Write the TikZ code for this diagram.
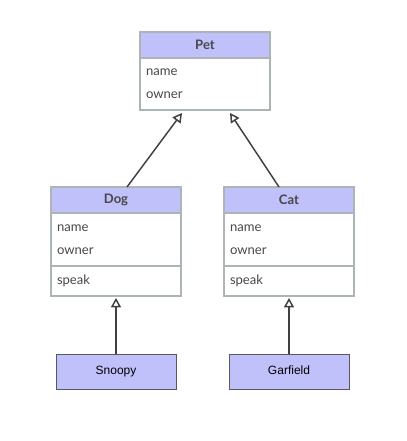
\documentclass[tikz,border=0pt]{standalone}
\usepackage{fontspec}
\setmainfont{Lato}
\newfontfamily\objfont{Liberation Sans}
\usetikzlibrary{arrows.meta,calc}
\definecolor{classfill}{RGB}{192,192,250}
\definecolor{classline}{RGB}{172,180,182}
\definecolor{textgray}{RGB}{72,72,72}
\definecolor{linkgray}{RGB}{64,64,64}
\definecolor{objline}{RGB}{88,88,96}

\begin{document}
\begin{tikzpicture}[x=0.75pt, y=-0.75pt,
    class head/.style = {draw=classline, line width=1pt, fill=classfill, anchor=north west, outer sep=0pt, minimum width=97.5pt, minimum height=19.5pt, inner sep=0pt, font=\fontsize{9.8}{11}\selectfont\bfseries, text=textgray},
    class part/.style = {draw=classline, line width=1pt, fill=white, anchor=north west, outer sep=0pt, text width=88.5pt, inner xsep=4.5pt, inner ysep=0pt, align=left, font=\fontsize{9.8}{17.25}\selectfont, text=textgray},
    object node/.style = {draw=objline, line width=0.6pt, fill=classfill, anchor=north west, outer sep=0pt, minimum width=90pt, minimum height=26.25pt, inner sep=0pt, text height=7pt, text depth=2pt, font=\objfont\fontsize{9}{11}\selectfont},
    inherit/.style = {draw=linkgray, line width=1.1pt, -{Triangle[open, length=7pt, width=7.5pt]}}
]
\useasboundingbox (0,0) rectangle (406,441);

% --- CLASE BASE ---
\node[class head] (pethead) at (140,32) {Pet};
\node[class part, minimum height=39pt] (petbody) at (pethead.south west) {name\\owner};

% --- SUBCLASES: \drawclass{nombre}{x}{titulo} ---
\def\drawclass#1#2#3{
    \node[class head] (#1head) at (#2,187) {#3};
    \node[class part, minimum height=39.75pt] (#1attr) at (#1head.south west) {name\\owner};
    \node[class part, minimum height=22.5pt] (#1meth) at (#1attr.south west) {speak};
}
\drawclass{dog}{51}{Dog}
\drawclass{cat}{224}{Cat}

% --- OBJETOS ---
\node[object node] (snoopy) at (56,354) {Snoopy};
\node[object node] (garfield) at (229,354) {Garfield};

% --- HERENCIA ---
\draw[inherit] ($(doghead.north)+(11,0)$) -- ($(petbody.south)+(-23,3)$);
\draw[inherit] ($(cathead.north)+(-10,0)$) -- ($(petbody.south)+(25,3)$);
\draw[inherit] (snoopy.north) -- ($(dogmeth.south)+(0,2)$);
\draw[inherit] (garfield.north) -- ($(catmeth.south)+(0,2)$);

\end{tikzpicture}
\end{document}
